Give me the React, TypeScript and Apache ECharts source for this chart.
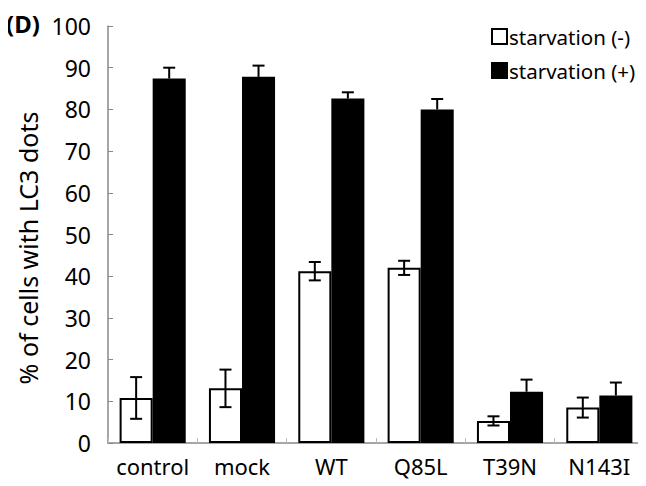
import React, { useEffect, useRef } from "react";
import * as echarts from "echarts";

const categories = ["control", "mock", "WT", "Q85L", "T39N", "N143I"];
const minusValues = [10.8, 13.1, 41.2, 42.0, 5.3, 8.5];
const minusErr = [5.0, 4.5, 2.2, 1.7, 1.1, 2.4];
const plusValues = [87.4, 87.8, 82.6, 80.0, 12.3, 11.4];
const plusErr = [2.6, 2.7, 1.5, 2.5, 2.9, 3.1];
const yTicks = [0, 10, 20, 30, 40, 50, 60, 70, 80, 90, 100];
const seriesNames = ["starvation (-)", "starvation (+)"];
const yAxisTitle = "% of cells with LC3 dots";

const FONT = "'Noto Sans', 'DejaVu Sans', sans-serif";
const CAT_GAP = 0.26;

function errorSeries(values: number[], errs: number[], side: number, both: boolean) {
  return {
    type: "custom",
    silent: true,
    z: 5,
    data: values.map((v, i) => [i, v, errs[i]]),
    renderItem: (params: any, api: any) => {
      const i = api.value(0);
      const v = api.value(1);
      const e = api.value(2);
      const catW = api.size([1, 0])[0];
      const barW = (catW * (1 - CAT_GAP)) / 2;
      const c = api.coord([i, v]);
      const x = c[0] + side * (barW / 2);
      const top = api.coord([i, v + e])[1];
      const bot = both ? api.coord([i, v - e])[1] : c[1];
      const cap = 6;
      const style = { stroke: "#000", lineWidth: 2 };
      return {
        type: "group",
        children: [
          { type: "line", shape: { x1: x, y1: top, x2: x, y2: bot }, style },
          { type: "line", shape: { x1: x - cap, y1: top, x2: x + cap, y2: top }, style },
          ...(both
            ? [{ type: "line", shape: { x1: x - cap, y1: bot, x2: x + cap, y2: bot }, style }]
            : []),
        ],
      };
    },
  };
}

export default function App() {
  const ref = useRef<HTMLDivElement>(null);
  useEffect(() => {
    const chart = echarts.init(ref.current!, undefined, { renderer: "svg" });
    chart.setOption({
      animation: false,
      backgroundColor: "#fff",
      textStyle: { fontFamily: FONT },
      grid: { left: 108, right: 2, top: 26, bottom: 43 },
      graphic: [
        {
          type: "text",
          left: 6,
          top: 11,
          style: { text: "(D)", font: `bold 24px ${FONT}`, fill: "#000" },
        },
        {
          type: "text",
          x: 28,
          y: 248,
          rotation: Math.PI / 2,
          style: {
            text: yAxisTitle,
            font: `25px ${FONT}`,
            fill: "#000",
            textAlign: "center",
            textVerticalAlign: "middle",
          },
        },
      ],
      legend: {
        orient: "vertical",
        left: 486,
        top: 21,
        itemWidth: 15,
        itemHeight: 15,
        itemGap: 13,
        icon: "rect",
        textStyle: { fontSize: 20.5, color: "#000", fontFamily: FONT, padding: [0, 0, 0, -3] },
        data: seriesNames,
      },
      xAxis: {
        type: "category",
        data: categories,
        axisLine: { lineStyle: { color: "#888", width: 1.5 } },
        axisTick: { show: true, inside: true, length: 5, lineStyle: { color: "#bbb" } },
        axisLabel: { fontSize: 22, color: "#000", margin: 12, fontFamily: FONT, interval: 0 },
      },
      yAxis: {
        type: "value",
        min: 0,
        max: 100,
        interval: 10,
        axisLine: { show: true, lineStyle: { color: "#888", width: 1.5 } },
        axisTick: { show: true, inside: true, length: 5, lineStyle: { color: "#888" } },
        splitLine: { show: false },
        axisLabel: {
          fontSize: 23,
          color: "#000",
          margin: 17,
          fontFamily: FONT,
          formatter: (v: number) => (yTicks.includes(v) ? String(v) : ""),
        },
      },
      series: [
        {
          name: seriesNames[0],
          type: "bar",
          data: minusValues,
          barGap: "0%",
          barCategoryGap: `${CAT_GAP * 100}%`,
          itemStyle: { color: "#fff", borderColor: "#000", borderWidth: 2 },
        },
        {
          name: seriesNames[1],
          type: "bar",
          data: plusValues,
          barGap: "0%",
          barCategoryGap: `${CAT_GAP * 100}%`,
          itemStyle: { color: "#000", borderColor: "#000", borderWidth: 2 },
        },
        errorSeries(minusValues, minusErr, -1, true),
        errorSeries(plusValues, plusErr, 1, false),
      ],
    });
    return () => chart.dispose();
  }, []);
  return <div ref={ref} style={{ width: 646, height: 486, marginLeft: -8, marginTop: -8 }} />;
}
